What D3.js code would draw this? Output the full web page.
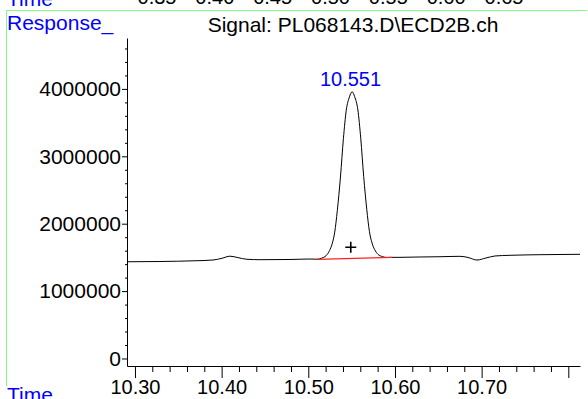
<!DOCTYPE html>
<html><head><meta charset="utf-8">
<script src="https://cdn.jsdelivr.net/npm/d3@7"></script>
<style>
body{margin:0;background:#fff;}
svg{display:block;}
text{font-family:"Liberation Sans",Arial,Helvetica,sans-serif;}
</style>
</head><body>
<svg id="c" width="588" height="399"></svg>
<script>
// ---- data ----
const times = [10.2908, 10.3288, 10.3692, 10.3900, 10.4004, 10.4096, 10.4188, 10.4292, 10.4442, 10.4788, 10.5019,
  10.5105, 10.5155, 10.5205, 10.5245, 10.5275, 10.5305, 10.5335, 10.5371, 10.5405, 10.5438, 10.5475, 10.5505,
  10.5535, 10.5572, 10.5605, 10.5639, 10.5675, 10.5705, 10.5735, 10.5765, 10.5805, 10.5855, 10.5905, 10.5960,
  10.6058, 10.6288, 10.6519, 10.6750, 10.6843, 10.6946, 10.7050, 10.7154, 10.7327, 10.7673, 10.8135];
const signal = [1435000, 1439000, 1450000, 1461000, 1487000, 1518000, 1497000, 1472000, 1466000, 1469000, 1476000,
  1473000, 1490000, 1525000, 1602000, 1701000, 1875000, 2198000, 2693000, 3262000, 3683000, 3882000, 3958000,
  3884000, 3687000, 3268000, 2701000, 2208000, 1887000, 1715000, 1618000, 1544000, 1512000, 1499000, 1501000,
  1501000, 1506000, 1510000, 1516000, 1499000, 1461000, 1491000, 1521000, 1531000, 1540000, 1546000];
const baselineTimes = [10.5097, 10.5962];
const baselineValues = [1472000, 1501000];
const peakTime = 10.551;
const peakLabel = "10.551";
const peakApex = 3958000;
const markerTime = 10.549;
const markerValue = 1650000;
const xDomain = [10.2908, 10.8135];
const yDomain = [-111300, 4755200];
const xMajorTicks = [10.30, 10.40, 10.50, 10.60, 10.70, 10.80];
const xMajorLabels = ["10.30", "10.40", "10.50", "10.60", "10.70", ""];
const xMinorTicks = [10.32,10.34,10.36,10.38,10.42,10.44,10.46,10.48,10.52,10.54,10.56,10.58,10.62,10.64,10.66,10.68,10.72,10.74,10.76,10.78];
const yMajorTicks = [0, 1000000, 2000000, 3000000, 4000000];
const yMajorLabels = ["0", "1000000", "2000000", "3000000", "4000000"];
const yMinorTicks = [200000,400000,600000,800000,1200000,1400000,1600000,1800000,2200000,2400000,2600000,2800000,3200000,3400000,3600000,3800000,4200000,4400000,4600000];
const topTickValues = [0.35, 0.40, 0.45, 0.50, 0.55, 0.60, 0.65];
const topTickLabels = ["0.35", "0.40", "0.45", "0.50", "0.55", "0.60", "0.65"];
const titleText = "Signal: PL068143.D\\ECD2B.ch";
const yAxisTitle = "Response_";
const xAxisTitle = "Time";

// ---- drawing ----
const svg = d3.select("#c");
const BLUE = "#0000ff", GREEN = "#80ff80";
const x = d3.scaleLinear().domain(xDomain).range([127, 580]);
const y = d3.scaleLinear().domain(yDomain).range([366, 38]);
const xTop = d3.scaleLinear().domain([0.35, 0.65]).range([157, 504]);

// frame lines (green)
svg.append("line").attr("x1", 6).attr("x2", 587).attr("y1", 10.5).attr("y2", 10.5).attr("stroke", GREEN);
svg.append("line").attr("x1", 6.5).attr("x2", 6.5).attr("y1", 10.5).attr("y2", 386).attr("stroke", GREEN);

// cut-off upper panel labels
svg.append("text").attr("x", 7).attr("y", 6).attr("fill", BLUE).attr("font-size", 21).text(xAxisTitle);
svg.selectAll(".toplab").data(topTickValues).join("text").attr("class","toplab")
  .attr("x", d => xTop(d)).attr("y", 4).attr("text-anchor", "middle").attr("font-size", 20)
  .text((d,i) => topTickLabels[i]);

// titles
svg.append("text").attr("x", 7).attr("y", 30).attr("fill", BLUE).attr("font-size", 21).text(yAxisTitle);
svg.append("text").attr("x", 353).attr("y", 32).attr("text-anchor", "middle").attr("font-size", 21).text(titleText);
svg.append("text").attr("x", 7).attr("y", 402).attr("fill", BLUE).attr("font-size", 21).text(xAxisTitle);

// y axis
const yAxis = svg.append("g").attr("transform", "translate(127,0)")
  .call(d3.axisLeft(y).tickValues(yMajorTicks).tickSize(5).tickPadding(1).tickSizeOuter(0)
    .tickFormat((d,i) => yMajorLabels[i]));
svg.append("g").attr("transform", "translate(127,0)")
  .call(d3.axisLeft(y).tickValues(yMinorTicks).tickSize(2).tickFormat(""))
  .call(g => g.select(".domain").remove());
// x axis
const xAxis = svg.append("g").attr("transform", "translate(0,366)")
  .call(d3.axisBottom(x).tickValues(xMajorTicks).tickSize(12).tickPadding(2).tickSizeOuter(0)
    .tickFormat((d,i) => xMajorLabels[i]));
svg.append("g").attr("transform", "translate(0,366)")
  .call(d3.axisBottom(x).tickValues(xMinorTicks).tickSize(6).tickFormat(""))
  .call(g => g.select(".domain").remove());
svg.selectAll(".tick text").attr("font-size", 20).attr("font-family", "Liberation Sans, Arial, sans-serif").attr("fill", "#000");
yAxis.selectAll(".tick text").attr("font-size", 21);

// signal trace
const pts = times.map((t,i) => [t, signal[i]]);
svg.append("path").datum(pts)
  .attr("d", d3.line().x(d => x(d[0])).y(d => y(d[1])).curve(d3.curveMonotoneX))
  .attr("fill", "none").attr("stroke", "#000").attr("stroke-width", 1);

// integration baseline
svg.append("path").datum(baselineTimes.map((t,i) => [t, baselineValues[i]]))
  .attr("d", d3.line().x(d => x(d[0])).y(d => y(d[1])))
  .attr("fill", "none").attr("stroke", "#ff2020").attr("stroke-width", 1.2);

// peak label and marker
svg.append("text").attr("x", x(peakTime)).attr("dx", -2).attr("y", y(peakApex) - 6)
  .attr("text-anchor", "middle").attr("fill", BLUE).attr("font-size", 20).text(peakLabel);
svg.append("path").attr("transform", `translate(${x(markerTime)},${y(markerValue)})`)
  .attr("d", "M-5.5,0H5.5M0,-5.5V5.5").attr("stroke", "#000").attr("stroke-width", 1.6);
</script>
</body></html>
